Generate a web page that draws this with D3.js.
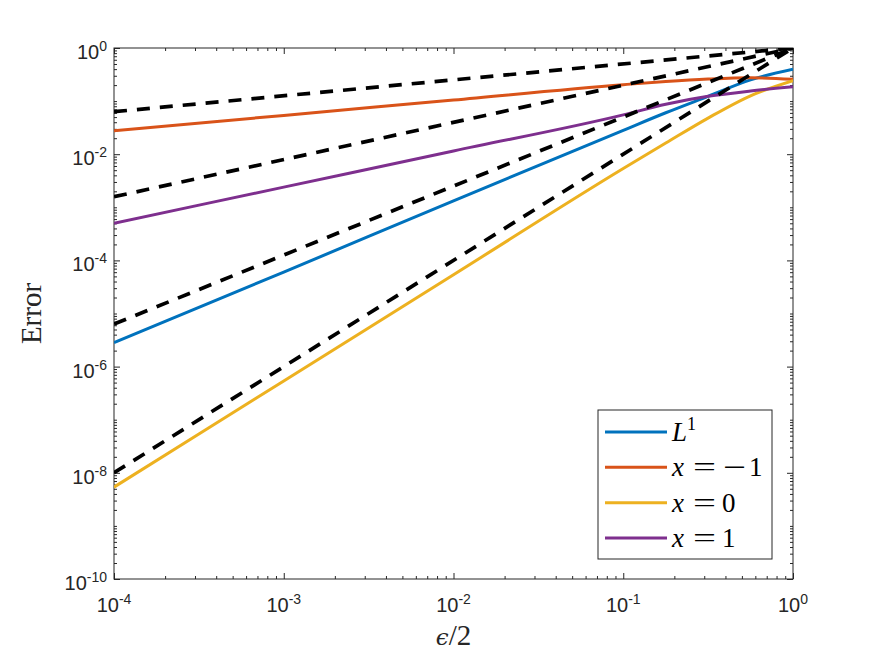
<!DOCTYPE html>
<html>
<head>
<meta charset="utf-8">
<script src="https://cdn.jsdelivr.net/npm/d3@7"></script>
<style>
  body { margin: 0; background: #fff; }
  svg { display: block; }
</style>
</head>
<body>
<div id="chartDiv"></div>
<script>
// epsilon/2 sample points and the errors
const epsHalf = [1e-4, 1e-3, 1e-2, 1e-1, 0.178, 0.316, 0.562, 1];
const errL1  = [2.82e-6, 6.03e-5, 1.32e-3, 0.0282, 0.0603, 0.123, 0.251, 0.398];
const errXm1 = [0.0277, 0.0537, 0.105, 0.204, 0.234, 0.260, 0.275, 0.257];
const errX0  = [5.37e-9, 5.37e-7, 5.37e-5, 5.37e-3, 0.0162, 0.0479, 0.126, 0.243];
const errX1  = [5.01e-4, 2.40e-3, 0.0115, 0.0550, 0.0871, 0.123, 0.155, 0.186];

// dashed reference slopes (end points only, straight in log-log)
const refEps = [1e-4, 1];
const refA = [0.0631, 1];
const refB = [1.58e-3, 1];
const refC = [6.31e-6, 1];
const refD = [1e-8, 1];

const seriesNames = ['L1', 'x=-1', 'x=0', 'x=1'];
const xTickExp = [-4, -3, -2, -1, 0];
const yTickExp = [0, -2, -4, -6, -8, -10];

var displayChart = function(){
	var canvasW = 875;
	var canvasH = 657;
	const svg = d3.select('#chartDiv')
		.append('svg')
		.attr('width', canvasW)
		.attr('height', canvasH);

	const margin = {top: 48, right: 82, bottom: 78, left: 114};
	const graphWidth = canvasW - margin.left - margin.right;
	const graphHeight = canvasH - margin.top - margin.bottom;
	const axisCol = '#262626';
	const cols = ['#0072BD', '#D95319', '#EDB120', '#7E2F8E'];

	const graph = svg.append('g')
		.attr('transform', `translate(${margin.left},${margin.top})`);

	const x = d3.scaleLog().domain([1e-4, 1]).range([0, graphWidth]);
	const y = d3.scaleLog().domain([1e-10, 1]).range([graphHeight, 0]);

	svg.append('defs').append('clipPath').attr('id', 'clip')
		.append('rect').attr('width', graphWidth).attr('height', graphHeight);

	// minor tick positions
	const minorX = [], minorY = [];
	for (let e = -4; e < 0; e++) for (let m = 2; m <= 9; m++) minorX.push(m * Math.pow(10, e));
	for (let e = -10; e < 0; e++) for (let m = 1; m <= 9; m++) {
		if (m === 1 && e % 2 === 0) continue;
		minorY.push(m * Math.pow(10, e));
	}
	const majorX = xTickExp.map(e => Math.pow(10, e));
	const majorY = yTickExp.map(e => Math.pow(10, e));

	function drawAxis(axisFn, scale, vals, size, tr){
		const g = graph.append('g')
			.attr('transform', tr)
			.call(axisFn(scale).tickValues(vals).tickSize(size).tickFormat(''));
		g.select('.domain').remove();
		g.selectAll('line').attr('stroke', axisCol).attr('stroke-width', 1);
		return g;
	}
	// inward ticks on all four sides
	drawAxis(d3.axisBottom, x, minorX, -3, `translate(0,${graphHeight})`);
	drawAxis(d3.axisBottom, x, majorX, -6, `translate(0,${graphHeight})`);
	drawAxis(d3.axisTop, x, minorX, -3, 'translate(0,0)');
	drawAxis(d3.axisTop, x, majorX, -6, 'translate(0,0)');
	drawAxis(d3.axisLeft, y, minorY, -3, 'translate(0,0)');
	drawAxis(d3.axisLeft, y, majorY, -6, 'translate(0,0)');
	drawAxis(d3.axisRight, y, minorY, -3, `translate(${graphWidth},0)`);
	drawAxis(d3.axisRight, y, majorY, -6, `translate(${graphWidth},0)`);

	graph.append('rect')
		.attr('width', graphWidth).attr('height', graphHeight)
		.attr('fill', 'none').attr('stroke', axisCol).attr('stroke-width', 1);

	// tick labels 10^k
	const tickFont = "'Liberation Sans', Arial, sans-serif";
	xTickExp.forEach(e => {
		const t = graph.append('text')
			.attr('x', x(Math.pow(10, e))).attr('y', graphHeight + 33)
			.attr('text-anchor', 'middle')
			.attr('font-family', tickFont).attr('font-size', 20).attr('fill', axisCol);
		t.append('tspan').text('10');
		t.append('tspan').attr('dy', -8).attr('font-size', 14).text(e);
	});
	yTickExp.forEach(e => {
		const t = graph.append('text')
			.attr('x', -7).attr('y', y(Math.pow(10, e)) + 11)
			.attr('text-anchor', 'end')
			.attr('font-family', tickFont).attr('font-size', 20).attr('fill', axisCol);
		t.append('tspan').text('10');
		t.append('tspan').attr('dy', -8).attr('font-size', 14).text(e);
	});

	// axis labels
	const serif = "'Liberation Serif', 'Times New Roman', serif";
	svg.append('text')
		.attr('transform', `translate(41,${margin.top + graphHeight / 2}) rotate(-90)`)
		.attr('text-anchor', 'middle')
		.attr('font-family', serif).attr('font-size', 29).attr('fill', axisCol)
		.text('Error');
	const xl = svg.append('text')
		.attr('x', margin.left + graphWidth / 2).attr('y', 645)
		.attr('text-anchor', 'middle')
		.attr('font-family', serif).attr('font-size', 29).attr('fill', axisCol);
	xl.append('tspan').attr('font-style', 'italic').attr('font-family', "'DejaVu Serif', serif").attr('font-size', 23).text('\u03F5');
	xl.append('tspan').text('/2');

	// curves
	const plotArea = graph.append('g').attr('clip-path', 'url(#clip)');
	const line = d3.line()
		.x(d => x(d[0]))
		.y(d => y(d[1]))
		.curve(d3.curveMonotoneX);

	[errL1, errXm1, errX0, errX1].forEach((s, i) => {
		plotArea.append('path')
			.datum(epsHalf.map((e, j) => [e, s[j]]))
			.attr('d', line)
			.attr('fill', 'none')
			.attr('stroke', cols[i])
			.attr('stroke-width', 3);
	});

	const refLine = d3.line().x(d => x(d[0])).y(d => y(d[1]));
	[refA, refB, refC, refD].forEach(r => {
		plotArea.append('path')
			.datum(refEps.map((e, j) => [e, r[j]]))
			.attr('d', refLine)
			.attr('fill', 'none')
			.attr('stroke', '#000')
			.attr('stroke-width', 3.7)
			.attr('stroke-dasharray', '13,10');
	});

	// legend
	const leg = graph.append('g').attr('transform', `translate(${598 - margin.left},${410 - margin.top})`);
	leg.append('rect')
		.attr('width', 174).attr('height', 149)
		.attr('fill', '#fff').attr('stroke', axisCol).attr('stroke-width', 1);
	const rowY = d3.scalePoint().domain(seriesNames).range([22, 128]);
	seriesNames.forEach((n, i) => {
		const ry = rowY(n);
		leg.append('line')
			.attr('x1', 7).attr('x2', 69).attr('y1', ry).attr('y2', ry)
			.attr('stroke', cols[i]).attr('stroke-width', 3);
		const t = leg.append('text')
			.attr('y', ry + 9)
			.attr('font-family', serif).attr('font-size', 27).attr('fill', '#000');
		if (n === 'L1') {
			t.append('tspan').attr('x', 74).attr('font-style', 'italic').text('L');
			t.append('tspan').attr('dy', -11).attr('font-size', 18).text('1');
		} else {
			t.append('tspan').attr('x', 74).attr('font-style', 'italic').text('x');
			t.append('tspan').attr('x', 95).attr('textLength', 23)
				.attr('lengthAdjust', 'spacingAndGlyphs').text('=');
			const v = n.slice(2);
			if (v[0] === '-') {
				t.append('tspan').attr('x', 125).attr('textLength', 23)
					.attr('lengthAdjust', 'spacingAndGlyphs').text('\u2212');
				t.append('tspan').attr('x', 151).text(v.slice(1));
			} else {
				t.append('tspan').attr('x', 124).text(v);
			}
		}
	});
};

displayChart();
</script>
</body>
</html>
